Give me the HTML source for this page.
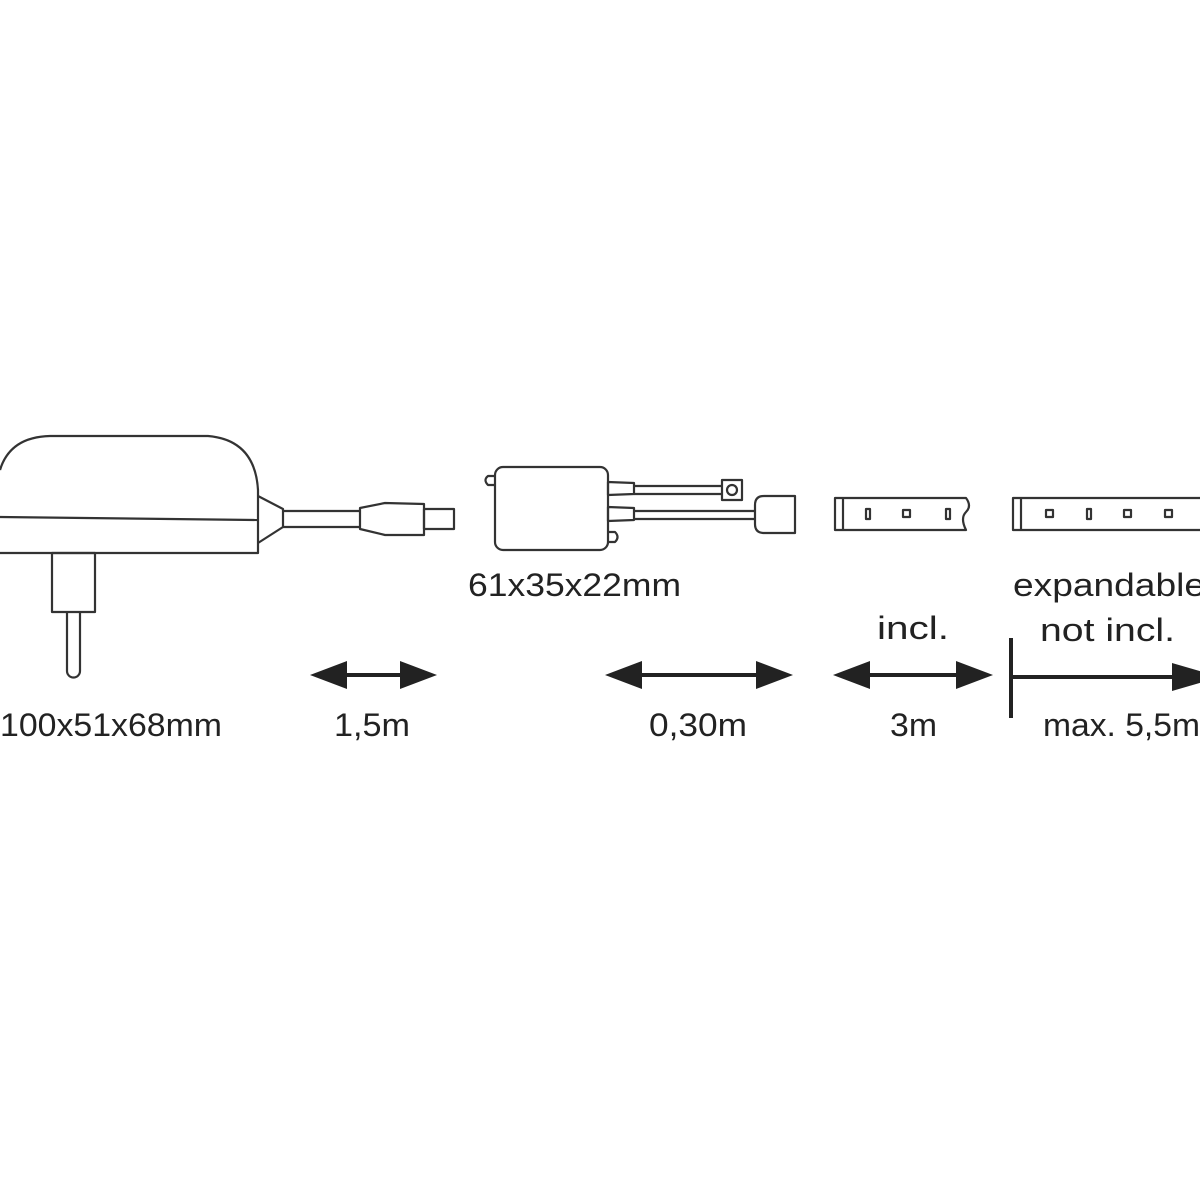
<!DOCTYPE html>
<html><head><style>html,body{margin:0;padding:0;background:#fff}svg{display:block}</style></head>
<body>
<svg width="1200" height="1200" viewBox="0 0 1200 1200" xmlns="http://www.w3.org/2000/svg">
<rect width="1200" height="1200" fill="#fff"/>
<g fill="none" stroke="#333" stroke-width="2.2" stroke-linejoin="round">
<path d="M0,470 Q10,437 50,436 L208,436 Q255,440 258,490 L258,553 L0,553"/>
<path d="M0,517 L258,520"/>
<path d="M258,496 L283,509 L283,527 L258,543"/>
<path d="M283,511 L360,511 M283,527 L360,527"/>
<path d="M360,508 L385,503 L424,504 L424,535 L385,535 L360,529 Z"/>
<rect x="424" y="509" width="30" height="20"/>
<rect x="52" y="553" width="43" height="59"/>
<path d="M67,612 L67,671 A6.5,6.5 0 0 0 80,671 L80,612"/>
<rect x="495" y="467" width="113" height="83" rx="8"/>
<path d="M495,476 L488,476 Q483,480 488,485 L495,485"/>
<path d="M608,532 L615,532 Q620,537 615,542 L608,542"/>
<path d="M608,482 L634,483 L634,494 L608,495 Z"/>
<path d="M608,507 L634,508 L634,520 L608,521 Z"/>
<path d="M634,486 L722,486 M634,494 L722,494"/>
<rect x="722" y="480" width="20" height="20"/>
<circle cx="732" cy="490" r="5"/>
<path d="M634,511 L755,511 M634,519 L755,519"/>
<path d="M764,496 L795,496 L795,533 L764,533 Q755,533 755,524 L755,505 Q755,496 764,496 Z"/>
<path d="M835,498 L966,498 Q972,506 966,512 Q960,518 966,530 L835,530 Z"/>
<path d="M843,498 L843,530"/>
<rect x="866" y="509" width="4" height="10"/>
<rect x="903" y="510" width="7" height="7"/>
<rect x="946" y="509" width="4" height="10"/>
<path d="M1200,498 L1013,498 L1013,530 L1200,530"/>
<path d="M1021,498 L1021,530"/>
<rect x="1046" y="510" width="7" height="7"/>
<rect x="1087" y="509" width="4" height="10"/>
<rect x="1124" y="510" width="7" height="7"/>
<rect x="1165" y="510" width="7" height="7"/>
</g>
<g fill="#222" stroke="#222">
<line x1="340" y1="675" x2="405" y2="675" stroke-width="4"/>
<polygon points="310,675 347,661 347,689" stroke="none"/>
<polygon points="437,675 400,661 400,689" stroke="none"/>
<line x1="635" y1="675" x2="760" y2="675" stroke-width="4"/>
<polygon points="605,675 642,661 642,689" stroke="none"/>
<polygon points="793,675 756,661 756,689" stroke="none"/>
<line x1="860" y1="675" x2="960" y2="675" stroke-width="4"/>
<polygon points="833,675 870,661 870,689" stroke="none"/>
<polygon points="993,675 956,661 956,689" stroke="none"/>
<line x1="1011" y1="638" x2="1011" y2="718" stroke-width="4"/>
<line x1="1011" y1="677" x2="1180" y2="677" stroke-width="4"/>
<polygon points="1220,677 1172,663 1172,691" stroke="none"/>
</g>
<g font-family="'Liberation Sans Narrow','Liberation Sans',sans-serif" font-size="32" fill="#222">
<text x="0" y="736" textLength="222" lengthAdjust="spacingAndGlyphs">100x51x68mm</text>
<text x="334" y="736" textLength="76" lengthAdjust="spacingAndGlyphs">1,5m</text>
<text x="649" y="736" textLength="98" lengthAdjust="spacingAndGlyphs">0,30m</text>
<text x="890" y="736" textLength="47" lengthAdjust="spacingAndGlyphs">3m</text>
<text x="1043" y="736" textLength="157" lengthAdjust="spacingAndGlyphs">max. 5,5m</text>
<text x="468" y="596" textLength="213" lengthAdjust="spacingAndGlyphs">61x35x22mm</text>
<text x="877" y="639" textLength="72" lengthAdjust="spacingAndGlyphs">incl.</text>
<text x="1013" y="596" textLength="192" lengthAdjust="spacingAndGlyphs">expandable</text>
<text x="1040" y="641" textLength="135" lengthAdjust="spacingAndGlyphs">not incl.</text>
</g>
</svg>
</body></html>
